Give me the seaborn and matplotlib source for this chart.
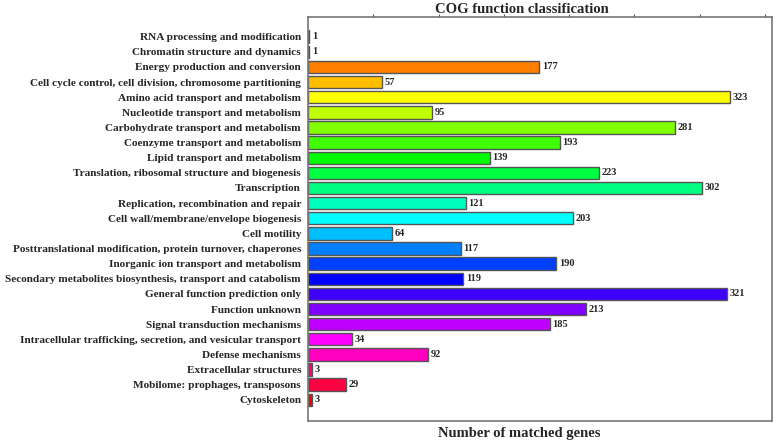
import pandas as pd
import matplotlib.pyplot as plt
import seaborn as sns

# COG categories (top to bottom) and counts
categorias = [
    "RNA processing and modification",
    "Chromatin structure and dynamics",
    "Energy production and conversion",
    "Cell cycle control, cell division, chromosome partitioning",
    "Amino acid transport and metabolism",
    "Nucleotide transport and metabolism",
    "Carbohydrate transport and metabolism",
    "Coenzyme transport and metabolism",
    "Lipid transport and metabolism",
    "Translation, ribosomal structure and biogenesis",
    "Transcription",
    "Replication, recombination and repair",
    "Cell wall/membrane/envelope biogenesis",
    "Cell motility",
    "Posttranslational modification, protein turnover, chaperones",
    "Inorganic ion transport and metabolism",
    "Secondary metabolites biosynthesis, transport and catabolism",
    "General function prediction only",
    "Function unknown",
    "Signal transduction mechanisms",
    "Intracellular trafficking, secretion, and vesicular transport",
    "Defense mechanisms",
    "Extracellular structures",
    "Mobilome: prophages, transposons",
    "Cytoskeleton",
]
conteos = [1, 1, 177, 57, 323, 95, 281, 193, 139, 223, 302, 121, 203, 64,
           117, 190, 119, 321, 213, 185, 34, 92, 3, 29, 3]

colores = ["#B00000", "#C02000", "#FF8000", "#FFBF00", "#FFFF00", "#BFFF00",
           "#80FF00", "#40FF00", "#00FF00", "#00FF40", "#00FF80", "#00FFBF",
           "#00FFFF", "#00BFFF", "#0080FF", "#0040FF", "#0000FF", "#4000FF",
           "#8000FF", "#BF00FF", "#FF00FF", "#FF00BF", "#FF0080", "#FF0040",
           "#FF0000"]

df = pd.DataFrame({"categoria": categorias, "conteo": conteos})

sns.set_style("white")
plt.rcParams["font.family"] = ["Liberation Serif", "DejaVu Serif"]
plt.rcParams["font.weight"] = "bold"

fig = plt.figure(figsize=(7.77, 4.41), dpi=100)
ax = fig.add_axes([308 / 777, 1 - 421 / 441, (772 - 308) / 777, (421 - 17) / 441])

sns.barplot(data=df, x="conteo", y="categoria", hue="categoria",
            palette=colores, saturation=1, legend=False, orient="h", width=0.82,
            edgecolor="#555555", linewidth=1, ax=ax)

# etiquetas de valores
for i, v in enumerate(conteos):
    ax.text(v + 2, i, str(v), va="center", ha="left",
            fontsize=7.5, fontweight="bold")

ax.set_xlim(0, max(conteos) * 1.1)
ax.set_ylim(len(conteos) - 1 + 1.4, -1.3)

ax.set_title("COG function classification", fontsize=10.5, fontweight="bold",
             pad=3, x=0.46)
ax.set_xlabel("Number of matched genes", fontsize=10.5, fontweight="bold",
              labelpad=4)
ax.xaxis.label.set_x(0.455)
ax.set_ylabel("")
ax.tick_params(axis="y", length=0, labelsize=8.1, pad=5)
ax.xaxis.tick_top()
ax.set_xticks(range(50, 351, 50))
ax.tick_params(axis="x", direction="out", length=2, labeltop=False, color="#555555")
for s in ax.spines.values():
    s.set_color("#777777")
    s.set_linewidth(1.2)
for lbl in ax.get_yticklabels():
    lbl.set_fontweight("bold")

fig.savefig("out.png", dpi=100)
